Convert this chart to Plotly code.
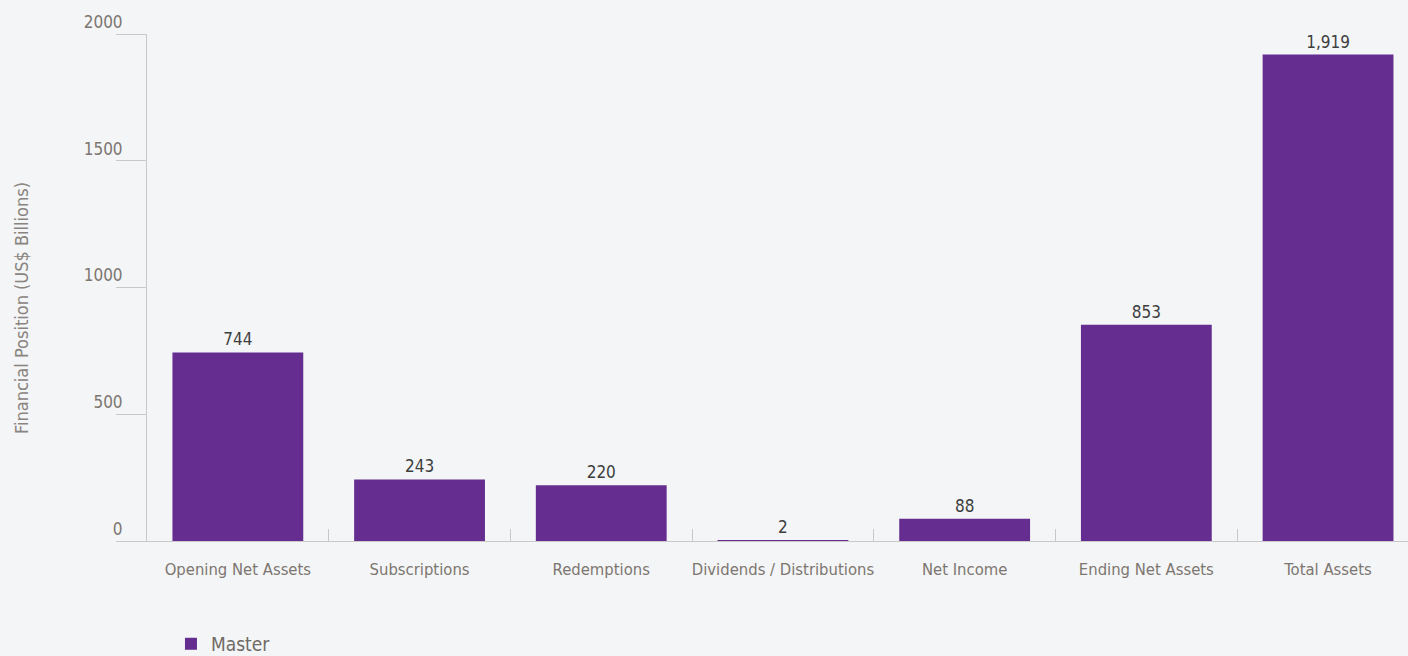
import plotly.graph_objects as go

categories = [
    "Opening Net Assets",
    "Subscriptions",
    "Redemptions",
    "Dividends / Distributions",
    "Net Income",
    "Ending Net Assets",
    "Total Assets",
]
master_values = [744, 243, 220, 2, 88, 853, 1919]
y_ticks = [0, 500, 1000, 1500, 2000]

BAR_COLOR = "#652d8f"
AXIS_COLOR = "#c9c9c9"
TICK_FONT = "DejaVu Sans Condensed, Liberation Sans Narrow, sans-serif"

fig = go.Figure()
fig.add_trace(
    go.Bar(
        x=categories,
        y=master_values,
        name="Master",
        marker=dict(color=BAR_COLOR, line=dict(width=0)),
        text=[f"{v:,}" for v in master_values],
        textposition="outside",
        cliponaxis=False,
        textfont=dict(family=TICK_FONT, size=17, color="#3e3e3e"),
    )
)

fig.update_layout(
    width=1408,
    height=656,
    margin=dict(l=147, r=0, t=34, b=115, autoexpand=False),
    paper_bgcolor="#f3f5f6",
    plot_bgcolor="rgba(0,0,0,0)",
    bargap=0.28,
    showlegend=True,
    legend=dict(
        orientation="h",
        x=0.019,
        xanchor="left",
        y=-0.203,
        yanchor="middle",
        font=dict(family=TICK_FONT, size=19, color="#6f6a66"),
        bgcolor="rgba(0,0,0,0)",
    ),
    font=dict(family=TICK_FONT),
)

fig.update_xaxes(
    range=[-0.5, 6.44],
    showgrid=False,
    showline=True,
    linecolor=AXIS_COLOR,
    linewidth=1,
    ticks="inside",
    tickson="boundaries",
    ticklen=12,
    tickcolor=AXIS_COLOR,
    tickangle=0,
    automargin=False,
    tickfont=dict(family=TICK_FONT, size=16.5, color="#7d7670"),
    ticklabelstandoff=13,
)

fig.update_yaxes(
    range=[0, 2000],
    tickvals=y_ticks,
    ticktext=[str(v) for v in y_ticks],
    showgrid=False,
    zeroline=False,
    showline=True,
    linecolor=AXIS_COLOR,
    linewidth=1,
    ticks="outside",
    ticklen=30,
    tickcolor=AXIS_COLOR,
    ticklabelshift=-12,
    ticklabelstandoff=-10,
    automargin=False,
    tickfont=dict(family=TICK_FONT, size=17, color="#7d7670"),
)

# Vertical axis caption, placed slightly below the plot's vertical centre
fig.add_annotation(
    text="Financial Position (US$ Billions)",
    textangle=-90,
    xref="paper",
    yref="paper",
    x=-0.0991,
    y=0.4596,
    xanchor="center",
    yanchor="middle",
    showarrow=False,
    font=dict(family=TICK_FONT, size=18, color="#8a8480"),
)

fig.write_html("out.html")
